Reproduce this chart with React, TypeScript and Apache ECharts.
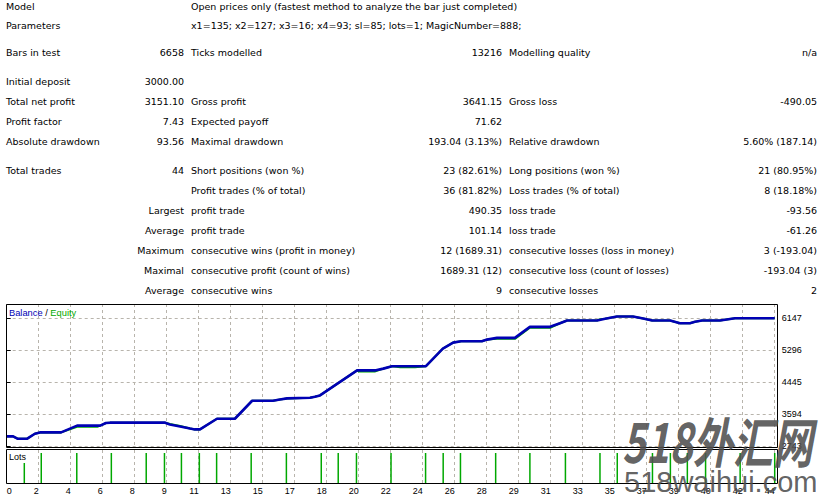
import React, { useEffect, useRef } from "react";
import * as echarts from "echarts";

// ---------- report table ----------
const headerLabels = ["Model", "Parameters"];
const headerValues = [
  "Open prices only (fastest method to analyze the bar just completed)",
  "x1=135; x2=127; x3=16; x4=93; sl=85; lots=1; MagicNumber=888;",
];
const col1 = ["Bars in test", "Initial deposit", "Total net profit", "Profit factor", "Absolute drawdown", "Total trades", "", "", "", "", "", ""];
const col2 = ["6658", "3000.00", "3151.10", "7.43", "93.56", "44", "", "Largest", "Average", "Maximum", "Maximal", "Average"];
const col3 = ["Ticks modelled", "", "Gross profit", "Expected payoff", "Maximal drawdown", "Short positions (won %)", "Profit trades (% of total)", "profit trade", "profit trade", "consecutive wins (profit in money)", "consecutive profit (count of wins)", "consecutive wins"];
const col4 = ["13216", "", "3641.15", "71.62", "193.04 (3.13%)", "23 (82.61%)", "36 (81.82%)", "490.35", "101.14", "12 (1689.31)", "1689.31 (12)", "9"];
const col5 = ["Modelling quality", "", "Gross loss", "", "Relative drawdown", "Long positions (won %)", "Loss trades (% of total)", "loss trade", "loss trade", "consecutive losses (loss in money)", "consecutive loss (count of losses)", "consecutive losses"];
const col6 = ["n/a", "", "-490.05", "", "5.60% (187.14)", "21 (80.95%)", "8 (18.18%)", "-93.56", "-61.26", "3 (-193.04)", "-193.04 (3)", "2"];

// ---------- chart data ----------
const xTickLabels = ["0", "2", "4", "6", "8", "9", "11", "13", "15", "17", "18", "20", "22", "24", "26", "28", "29", "31", "33", "35", "37", "39", "40", "42", "44"];
const yMin = 2743;
const yStep = 851;
const yMax = 6529;

const balX = [0, 0.2, 0.35, 0.63, 0.88, 1.04, 1.7, 2.2, 2.92, 3.1, 3.23, 4.95, 5.1, 5.42, 5.73, 5.88, 6.04, 6.57, 7.13, 7.67, 8.32, 8.54, 8.76, 9.48, 9.63, 9.79, 10.95, 11.54, 11.77, 12.04, 13.1, 13.63, 13.95, 14.2, 14.85, 15.01, 15.32, 15.88, 16.35, 16.98, 17.29, 17.51, 18.45, 18.7, 19.07, 19.57, 19.89, 20.17, 20.73, 21.04, 21.35, 21.51, 21.73, 22.29, 22.76, 24];
const balY = [3000, 3000, 2935, 2935, 3070, 3105, 3105, 3285, 3285, 3355, 3365, 3365, 3317, 3265, 3210, 3185, 3185, 3470, 3470, 3950, 3950, 3985, 4012, 4030, 4058, 4092, 4760, 4760, 4806, 4870, 4870, 5340, 5500, 5535, 5535, 5580, 5625, 5625, 5920, 5920, 6016, 6088, 6088, 6134, 6195, 6195, 6142, 6088, 6088, 6016, 6016, 6054, 6088, 6088, 6150, 6150];

const eqX = [0, 0.2, 0.35, 0.63, 0.88, 1.04, 1.7, 2.2, 2.83, 2.92, 3.1, 3.23, 4.95, 5.1, 5.42, 5.73, 5.88, 6.04, 6.57, 7.13, 7.67, 8.32, 8.54, 8.76, 9.48, 9.63, 9.79, 10.95, 11.0, 11.5, 11.77, 12.04, 12.3, 12.76, 13.1, 13.63, 13.95, 14.2, 14.85, 15.01, 15.32, 15.88, 16.35, 16.98, 17.29, 17.51, 18.45, 18.55, 18.7, 19.07, 19.57, 19.89, 20.17, 20.73, 21.04, 21.35, 21.51, 21.73, 22.29, 22.76, 24];
const eqY = [3000, 3000, 2935, 2935, 3070, 3105, 3105, 3255, 3255, 3285, 3355, 3365, 3365, 3330, 3275, 3210, 3185, 3185, 3470, 3470, 3950, 3950, 3985, 4012, 4030, 4058, 4092, 4760, 4730, 4730, 4806, 4870, 4845, 4845, 4870, 5340, 5500, 5535, 5535, 5580, 5600, 5600, 5895, 5895, 6016, 6088, 6088, 6125, 6134, 6195, 6195, 6142, 6088, 6088, 6016, 6016, 6054, 6088, 6088, 6150, 6150];

const lotX = [0.55, 1.08, 2.19, 3.27, 4.36, 4.93, 5.46, 6.02, 6.56, 7.64, 8.74, 9.83, 10.36, 10.93, 12.01, 13.09, 13.64, 14.18, 15.28, 16.35, 17.46, 18.54, 19.08, 20.18, 20.74, 21.27, 21.84, 22.92, 24];
const lotY = lotX.map(() => 1);

// ---------- layout ----------
const headerRowY = [6.5, 25.5];
const statRowY = [52.5, 81.5, 101.5, 121.5, 141.5, 170.5, 190.5, 210.5, 230.5, 250.5, 270.5, 290.5];
const colX = [6, 184, 191, 502, 509, 817];
const tableFont = "DejaVu Sans";
const tableSize = 9.5;
const chartFont = "Liberation Sans";

const BLUE = "#0000b4";
const GREEN = "#00a800";
const GRID = "#b8b4ac";

function txt(x: number, y: number, text: string, align: string, extra: any = {}) {
  return {
    type: "text",
    x,
    y,
    z: 100,
    silent: true,
    style: {
      text,
      textAlign: align,
      textVerticalAlign: "middle",
      fontFamily: tableFont,
      fontSize: tableSize,
      fill: "#000",
      ...extra,
    },
  };
}

export default function App() {
  const ref = useRef<HTMLDivElement>(null);

  useEffect(() => {
    if (!ref.current) return;
    const chart = echarts.init(ref.current, undefined, { renderer: "svg" });

    const graphic: any[] = [];
    headerLabels.forEach((t, i) => {
      graphic.push(txt(colX[0], headerRowY[i], t, "left"));
      graphic.push(txt(colX[2], headerRowY[i], headerValues[i], "left"));
    });
    const cols = [col1, col2, col3, col4, col5, col6];
    const aligns = ["left", "right", "left", "right", "left", "right"];
    statRowY.forEach((y, r) => {
      cols.forEach((c, ci) => {
        if (c[r]) graphic.push(txt(colX[ci], y, c[r], aligns[ci]));
      });
    });

    // panel borders
    graphic.push({
      type: "rect", z: 100, silent: true,
      shape: { x: 6.5, y: 304.5, width: 771, height: 143 },
      style: { fill: "none", stroke: "#000", lineWidth: 1 },
    });
    // mask lower part of the bottom y label, as in the original
    graphic.push({
      type: "rect", z: 99, silent: true,
      shape: { x: 778, y: 449, width: 44, height: 8 },
      style: { fill: "#fff" },
    });
    graphic.push({
      type: "rect", z: 100, silent: true,
      shape: { x: 6.5, y: 449.5, width: 771, height: 34 },
      style: { fill: "none", stroke: "#000", lineWidth: 1 },
    });
    // legend
    graphic.push({
      type: "text", x: 9, y: 312.5, z: 101, silent: true,
      style: {
        text: "{b|Balance} {s|/} {e|Equity}",
        textVerticalAlign: "middle",
        fontFamily: chartFont,
        fontSize: 9.3,
        rich: {
          b: { fill: BLUE, fontFamily: chartFont, fontSize: 9.3 },
          s: { fill: "#000", fontFamily: chartFont, fontSize: 9.3 },
          e: { fill: GREEN, fontFamily: chartFont, fontSize: 9.3 },
        },
      },
    });
    // Lots label with white box
    graphic.push({
      type: "rect", z: 100, silent: true,
      shape: { x: 7, y: 450, width: 19.5, height: 13 },
      style: { fill: "#fff" },
    });
    graphic.push({
      type: "text", x: 9, y: 457, z: 101, silent: true,
      style: { text: "Lots", textVerticalAlign: "middle", fontFamily: chartFont, fontSize: 9, fill: "#000" },
    });
    // watermark
    graphic.push({
      type: "text", x: 622, y: 440, z: 110, silent: true, scaleY: 1.35,
      style: {
        text: "518外汇网", textVerticalAlign: "middle",
        fontFamily: "Noto Sans CJK SC", fontSize: 40, fontWeight: "bold", fontStyle: "italic",
        fill: "#505050", opacity: 0.9,
      },
    });
    graphic.push({
      type: "text", x: 624, y: 482, z: 110, silent: true,
      style: {
        text: "518waihui.com", textVerticalAlign: "middle",
        fontFamily: chartFont, fontSize: 29, fill: "#505050", opacity: 0.9,
      },
    });

    const splitDashed = { show: true, lineStyle: { color: GRID, type: [3, 3], width: 1 } };

    chart.setOption({
      animation: false,
      backgroundColor: "#fff",
      grid: [
        { left: 6.7, top: 304, width: 768, height: 142 },
        { left: 6.7, top: 450, width: 768, height: 33 },
      ],
      xAxis: [
        {
          type: "value", gridIndex: 0, min: 0, max: 24, interval: 1,
          axisLine: { show: false }, axisTick: { show: false }, axisLabel: { show: false },
          splitLine: splitDashed,
        },
        {
          type: "value", gridIndex: 1, min: 0, max: 24, interval: 1,
          axisLine: { show: false }, axisTick: { show: false },
          splitLine: splitDashed,
          axisLabel: {
            show: true, margin: 3, fontSize: 9, fontFamily: chartFont, color: "#000",
            align: "right", alignMinLabel: "left", hideOverlap: false,
            formatter: (v: number) => xTickLabels[Math.round(v)] ?? "",
          },
        },
      ],
      yAxis: [
        {
          type: "value", gridIndex: 0, position: "right", min: yMin, max: yMax, interval: yStep,
          axisLine: { show: false },
          axisTick: { show: true, length: 4, lineStyle: { color: "#000" } },
          splitLine: splitDashed,
          axisLabel: {
            show: true, margin: 7, fontSize: 9, fontFamily: chartFont, color: "#000",
            showMaxLabel: false, showMinLabel: true, align: "left",
            formatter: (v: number) => String(Math.round(v)),
          },
        },
        {
          type: "value", gridIndex: 1, min: 0, max: 1.1,
          axisLine: { show: false }, axisTick: { show: false }, axisLabel: { show: false },
          splitLine: { show: false },
        },
      ],
      series: [
        {
          name: "Equity", type: "line", xAxisIndex: 0, yAxisIndex: 0,
          data: eqX.map((x, i) => [x, eqY[i]]),
          symbol: "none", lineStyle: { color: GREEN, width: 2 }, itemStyle: { color: GREEN },
          z: 3,
        },
        {
          name: "Balance", type: "line", xAxisIndex: 0, yAxisIndex: 0,
          data: balX.map((x, i) => [x, balY[i]]),
          symbol: "none", lineStyle: { color: BLUE, width: 2.6 }, itemStyle: { color: BLUE },
          z: 4,
        },
        {
          name: "Lots", type: "bar", xAxisIndex: 1, yAxisIndex: 1,
          data: lotX.map((x, i) => [x, lotY[i]]),
          barWidth: 1.5, itemStyle: { color: GREEN }, clip: false,
        },
      ],
      graphic,
    });

    return () => chart.dispose();
  }, []);

  return (
    <div
      ref={ref}
      style={{ position: "absolute", left: 0, top: 0, width: 822, height: 499, background: "#fff" }}
    />
  );
}
